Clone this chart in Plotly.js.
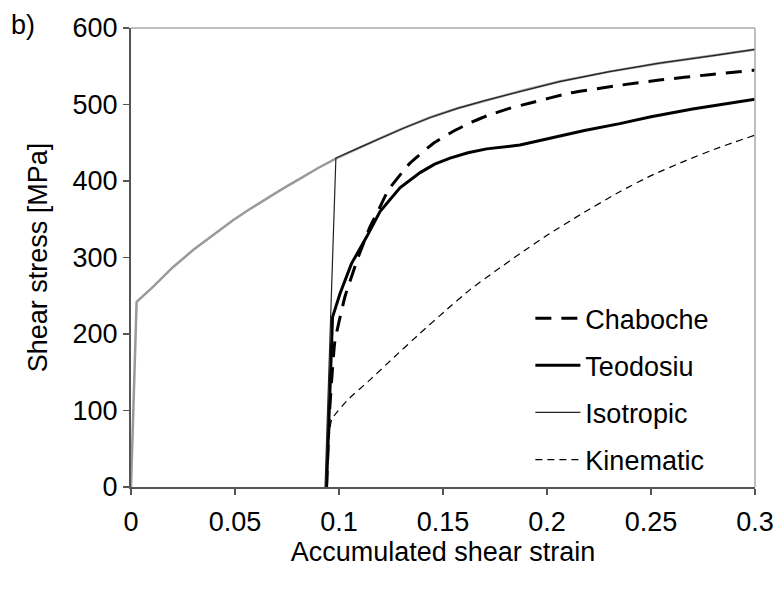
<!DOCTYPE html>
<html>
<head>
<meta charset="utf-8">
<script src="https://cdn.plot.ly/plotly-3.0.1.min.js"></script>
<style>html,body{margin:0;padding:0;background:#fff;}#chart{width:779px;height:591px;}</style>
</head>
<body>
<div id="chart"></div>
<script>
// Monotonic (first loading) curve, grey, not in legend
const monoStrain = [0, 0.0027, 0.0107, 0.02, 0.03, 0.04, 0.0492, 0.057, 0.065, 0.073, 0.0813, 0.09, 0.0989, 0.11, 0.12, 0.131, 0.1438, 0.157, 0.17, 0.188, 0.206, 0.23, 0.254, 0.28, 0.3];
const monoStress = [0, 242, 262, 287, 310, 330, 349, 363, 377, 390, 403, 417, 430, 444, 456, 469, 483, 495, 505, 518, 530, 543, 554, 564, 572];

const isoStrain = [0.0933, 0.0985, 0.11, 0.12, 0.131, 0.1438, 0.157, 0.17, 0.188, 0.206, 0.23, 0.254, 0.28, 0.3];
const isoStress = [0, 430, 444, 456, 469, 483, 495, 505, 518, 530, 543, 554, 564, 572];

const teoStrain = [0.094, 0.0953, 0.0969, 0.1005, 0.106, 0.1133, 0.1197, 0.1293, 0.139, 0.146, 0.1534, 0.162, 0.171, 0.187, 0.2, 0.218, 0.235, 0.25, 0.27, 0.285, 0.3];
const teoStress = [0, 105, 222, 253, 292, 327, 360, 391, 411, 422, 430, 437, 442, 447, 455, 466, 475, 484, 494, 501, 507];

const chaStrain = [0.094, 0.0955, 0.098, 0.1029, 0.1093, 0.1149, 0.1197, 0.1237, 0.134, 0.1453, 0.155, 0.163, 0.171, 0.182, 0.192, 0.211, 0.232, 0.254, 0.278, 0.3];
const chaStress = [0, 100, 190, 249, 301, 340, 366, 388, 423, 449, 465, 476, 485, 495, 502, 515, 524, 532, 539, 545];

const kinStrain = [0.094, 0.0965, 0.105, 0.1149, 0.127, 0.139, 0.151, 0.163, 0.175, 0.187, 0.2, 0.216, 0.235, 0.25, 0.267, 0.283, 0.3];
const kinStress = [0, 88, 116, 140, 171, 201, 230, 258, 282, 305, 329, 356, 386, 407, 427, 444, 460];

const xTicks = [0, 0.05, 0.1, 0.15, 0.2, 0.25, 0.3];
const xTickText = ['0', '0.05', '0.1', '0.15', '0.2', '0.25', '0.3'];
const yTicks = [0, 100, 200, 300, 400, 500, 600];

const FONT = 'Liberation Sans, Arial, sans-serif';
const FS = 27;

const traces = [
  {x: monoStrain, y: monoStress, mode: 'lines', name: 'monotonic', showlegend: false,
   line: {color: '#9a9a9a', width: 2.5}, hoverinfo: 'skip'},
  {x: chaStrain, y: chaStress, mode: 'lines', name: 'Chaboche', legendgroup: 'a',
   line: {color: '#000', width: 3, dash: '16px,10px', shape: 'spline', smoothing: 0.4}},
  {x: teoStrain, y: teoStress, mode: 'lines', name: 'Teodosiu', legendgroup: 'b',
   line: {color: '#000', width: 3}},
  {x: isoStrain, y: isoStress, mode: 'lines', name: 'Isotropic', legendgroup: 'c',
   line: {color: '#222', width: 1.2}},
  {x: kinStrain, y: kinStress, mode: 'lines', name: 'Kinematic', legendgroup: 'd',
   line: {color: '#000', width: 1.2, dash: '7px,5px', shape: 'spline', smoothing: 0.5}}
];

const layout = {
  width: 779, height: 591,
  margin: {l: 131, r: 24, t: 28, b: 104},
  paper_bgcolor: '#fff', plot_bgcolor: '#fff',
  font: {family: FONT, size: FS, color: '#000'},
  showlegend: true,
  legend: {x: 0.64, y: 0.42, xanchor: 'left', yanchor: 'top', bgcolor: 'rgba(0,0,0,0)',
           font: {family: FONT, size: FS, color: '#000'}, tracegroupgap: 9, itemwidth: 45,
           traceorder: 'grouped'},
  xaxis: {
    range: [0, 0.3], tickvals: xTicks, ticktext: xTickText,
    showgrid: false, zeroline: false, showline: true, linecolor: '#555', linewidth: 2,
    ticks: 'outside', ticklen: 6, tickcolor: '#555', tickwidth: 1.2, ticklabelstandoff: 4,
    tickfont: {family: FONT, size: FS, color: '#000'},
    title: {text: 'Accumulated shear strain', font: {family: FONT, size: FS, color: '#000'}, standoff: 3}
  },
  yaxis: {
    range: [0, 600], tickvals: yTicks,
    showgrid: false, zeroline: false, showline: true, linecolor: '#555', linewidth: 2,
    ticks: 'outside', ticklen: 6, tickcolor: '#555', tickwidth: 1.2,
    tickfont: {family: FONT, size: FS, color: '#000'},
    title: {text: 'Shear stress [MPa]', font: {family: FONT, size: FS, color: '#000'}, standoff: 17}
  },
  shapes: [
    {type: 'line', xref: 'paper', yref: 'paper', x0: 0, x1: 1, y0: 1, y1: 1, line: {color: '#aaa', width: 1.5}},
    {type: 'line', xref: 'paper', yref: 'paper', x0: 1, x1: 1, y0: 0, y1: 1, line: {color: '#aaa', width: 1.5}}
  ],
  annotations: [
    {text: 'b)', xref: 'paper', yref: 'paper', x: -0.173, y: 1.006, xanchor: 'center', yanchor: 'middle',
     showarrow: false, font: {family: FONT, size: FS, color: '#000'}}
  ]
};

Plotly.newPlot('chart', traces, layout, {staticPlot: true, displayModeBar: false});
</script>
</body>
</html>
